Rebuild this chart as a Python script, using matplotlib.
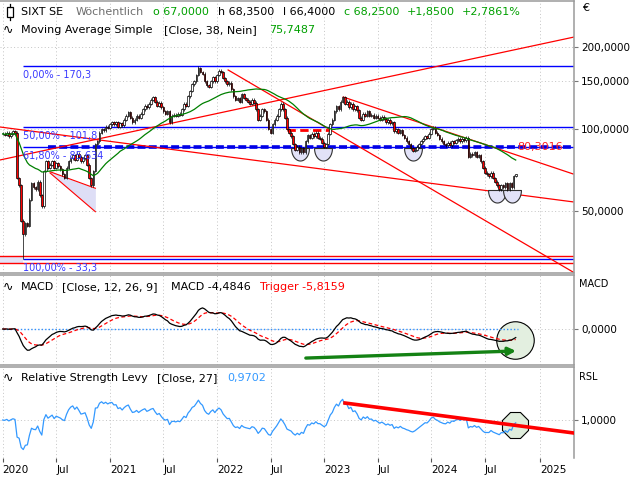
import matplotlib
matplotlib.use("Agg")
import matplotlib.pyplot as plt
import matplotlib.dates as mdates
from matplotlib.path import Path
from matplotlib.patches import Rectangle
from matplotlib.lines import Line2D
from matplotlib.ticker import NullLocator
import numpy as np
import pandas as pd

# weekly closes (EUR), one bar per Monday from 2020-01-06
close_2020 = [96, 95, 97, 94, 96, 98, 97, 66, 62, 46,
              41, 45, 44, 55, 63, 61, 60, 64, 57, 52,
              70, 76, 72, 74, 76, 72, 75, 73, 71, 68,
              66, 72, 76, 78, 80, 77, 81, 79, 76, 78,
              80, 74, 66, 62, 70, 88, 90, 97, 100, 99,
              102, 101]
close_2021 = [104, 106, 104, 106, 102, 105, 103, 108, 112, 115,
              110, 106, 108, 112, 110, 114, 118, 122, 120, 124,
              128, 131, 126, 122, 125, 120, 116, 114, 116, 106,
              112, 113, 112, 114, 113, 118, 124, 122, 132, 138,
              146, 150, 158, 167, 162, 160, 150, 145, 143, 150,
              155, 150]
close_2022 = [158, 164, 162, 154, 150, 146, 148, 140, 132, 128,
              130, 126, 134, 130, 128, 126, 124, 128, 125, 118,
              108, 112, 118, 116, 108, 100, 97, 104, 108, 112,
              118, 124, 118, 110, 100, 97, 94, 88, 84, 86,
              82, 85, 82, 90, 95, 93, 96, 94, 97, 93,
              92, 89]
close_2023 = [86, 88, 96, 104, 108, 116, 121, 118, 126, 131,
              124, 126, 120, 124, 118, 121, 117, 110, 108, 114,
              112, 116, 112, 113, 110, 112, 110, 108, 111, 109,
              106, 108, 105, 106, 98, 100, 97, 99, 95, 93,
              90, 88, 85, 83, 84, 86, 88, 90, 92, 94,
              93, 96]
close_2024 = [100, 101, 97, 95, 92, 90, 88, 87, 89, 87,
              90, 89, 91, 92, 90, 92, 91, 93, 79, 81,
              80, 82, 79, 80, 76, 72, 69, 68, 67, 69,
              66, 64, 62, 60, 62, 61, 63, 60, 63, 61,
              67, 68.25]

# wick extremes visible in the chart
high_fix = {"2021-11-01": 170.3, "2024-10-14": 68.35}
low_fix = {"2020-03-16": 33.3, "2024-10-14": 66.4}
last_open = 67.0

fib_pct = [0.0, 0.5, 0.618, 1.0]
fib_labels = ["0,00% - 170,3", "50,00% - 101,8", "61,80% - 85,634", "100,00% - 33,3"]

# drawn annotations: (date, price) end points
trend_lines = [
    [("2019-12-28", 101.7), ("2025-04-27", 53.9)],
    [("2019-12-28", 76.9), ("2025-04-30", 218.0)],
    [("2022-02-10", 164.9), ("2025-04-30", 29.6)],
    [("2023-03-08", 131.1), ("2025-04-27", 68.3)],
]
channel_top = [("2020-06-15", 69.6), ("2020-11-16", 60.5)]
channel_bot = [("2020-06-15", 68.9), ("2020-11-16", 49.6)]
band_levels = [32.1, 34.0]
neckline = [("2022-08-29", 99.2), ("2023-01-26", 99.2)]
dash_start = "2020-06-08"
bowl_dates = ["2022-10-12", "2022-12-28", "2023-11-01", "2024-08-10", "2024-10-01"]
bowl_prices = [85.0, 85.0, 85.0, 59.6, 59.6]
macd_arrow = [("2022-11-01", -17.6), ("2024-10-15", -13.3)]
macd_ring = ("2024-10-10", -6.7)
rsl_line = [("2023-03-14", 1.283), ("2025-04-30", 0.783)]
rsl_ring = ("2024-10-12", 0.922)

tick_dates = ["2020-01-06", "2020-07-06", "2021-01-04", "2021-07-05", "2022-01-03",
              "2022-07-04", "2023-01-02", "2023-07-03", "2024-01-01", "2024-07-01",
              "2025-01-06"]
tick_labels = ["2020", "Jul", "2021", "Jul", "2022", "Jul", "2023", "Jul", "2024", "Jul", "2025"]
price_ticks = [50, 100, 150, 200]
price_tick_labels = ["50,0000", "100,0000", "150,0000", "200,0000"]


def dn(d):
    return mdates.date2num(pd.Timestamp(d))


close = close_2020 + close_2021 + close_2022 + close_2023 + close_2024
dt = pd.date_range("2020-01-06", periods=len(close), freq="W-MON")
s = pd.Series(close, index=dt, dtype=float)
opn = s.shift(1).fillna(s.iloc[0])
opn.iloc[-1] = last_open
hi = np.maximum(opn, s) * 1.012
lo = np.minimum(opn, s) * 0.988
for d, v in high_fix.items():
    hi[pd.Timestamp(d)] = v
for d, v in low_fix.items():
    lo[pd.Timestamp(d)] = v

ma = s.rolling(38, min_periods=1).mean()
macd = s.ewm(span=12, adjust=False).mean() - s.ewm(span=26, adjust=False).mean()
trig = macd.ewm(span=9, adjust=False).mean()
rsl = s / s.rolling(27, min_periods=1).mean()

hmax, lmin = hi.max(), lo.min()
fib_lv = [hmax - (hmax - lmin) * p for p in fib_pct]
low_date = mdates.date2num(lo.idxmin())

xd = mdates.date2num(dt)
x_left, x_right = dn("2019-12-28"), dn("2025-04-30")
green = "#00a000"
grid_kw = dict(color="#c4c4c4", linestyle=(0, (1, 2.5)), linewidth=0.7)

fig = plt.figure(figsize=(6.4, 4.8), dpi=100)
ax1 = fig.add_axes([0, 207 / 480, 574 / 640, 272 / 480])
ax2 = fig.add_axes([0, 115 / 480, 574 / 640, 90 / 480], sharex=ax1)
ax3 = fig.add_axes([0, 22 / 480, 574 / 640, 91 / 480], sharex=ax1)

for ax in (ax1, ax2, ax3):
    ax.spines["left"].set_visible(False)
    for sp in ("top", "right", "bottom"):
        ax.spines[sp].set_color("#9a9a9a")
        ax.spines[sp].set_linewidth(1.1)
    ax.yaxis.tick_right()
    ax.tick_params(axis="y", direction="out", length=3, width=0.8, color="#777777",
                   labelsize=7.5, pad=2)
    ax.grid(True, **grid_kw)
    ax.set_axisbelow(True)
ax3.spines["bottom"].set_visible(False)
ax1.tick_params(axis="x", bottom=False, labelbottom=False)
ax2.tick_params(axis="x", bottom=False, labelbottom=False)

# ---- price panel
ax1.set_yscale("log")
ax1.set_ylim(29.5, 295.9)
ax1.set_xlim(x_left, x_right)
ax1.set_yticks(price_ticks, labels=price_tick_labels)
ax1.yaxis.set_minor_locator(NullLocator())

ax1.fill_between([x_left, low_date], band_levels[0], band_levels[1], color="#e2e2f6", lw=0, zorder=1)
for lv in band_levels:
    ax1.axhline(lv, color="red", lw=1, zorder=2)
ax1.fill_between([dn(d) for d, _ in channel_top], [p for _, p in channel_bot],
                 [p for _, p in channel_top], color="#dedef6", lw=0, zorder=1)
for seg in (channel_top, channel_bot):
    ax1.plot([dn(d) for d, _ in seg], [p for _, p in seg], color="red", lw=0.8, zorder=2)

ax1.hlines(fib_lv, low_date, x_right, color="#0000ff", lw=1, zorder=2)
ax1.plot([dn(dash_start), x_right], [fib_lv[2]] * 2, color="#0000e6", lw=2.6,
         dashes=(2.2, 0.9), zorder=2)
for lv, lbl in zip(fib_lv, fib_labels):
    ax1.annotate(lbl, (low_date, lv), xytext=(0, -6.5), textcoords="offset points",
                 ha="left", va="center", fontsize=7, color="#3a3aff", zorder=6)

for seg in trend_lines:
    ax1.plot([dn(d) for d, _ in seg], [p for _, p in seg], color="red", lw=0.9, zorder=2)
ax1.plot([dn(d) for d, _ in neckline], [p for _, p in neckline], color="red", lw=2,
         dashes=(3, 1.6), zorder=2)

t = np.linspace(np.pi, 2 * np.pi, 40)
bowl = Path(np.vstack([np.c_[np.cos(t), 1.4 * np.sin(t)], [[-1, 0]]]), closed=True)
ax1.plot([dn(d) for d in bowl_dates], bowl_prices, ls="none", marker=bowl, ms=18,
         mfc="#e2e2f8", mec="#303030", mew=0.8, zorder=2)

up = (s >= opn).values
ax1.vlines(xd, lo, hi, color="black", lw=0.5, zorder=3)
ax1.bar(xd, (s - opn).abs().values, bottom=np.minimum(opn, s).values, width=5.5,
        color=np.where(up, "white", "red"), edgecolor="black", linewidth=0.5, zorder=4)
ax1.plot(xd, ma.values, color="#008000", lw=0.9, zorder=5)

ax1.annotate("80,3016", (xd[-1], fib_lv[2]), xytext=(1, 0), textcoords="offset points",
             ha="left", va="center", fontsize=8, color="#ff2020", zorder=6)

# ---- MACD panel
ax2.set_ylim(-21.8, 32.7)
ax2.set_yticks([0], labels=["0,0000"])
ax2.plot([dn(macd_ring[0])], [macd_ring[1]], ls="none", marker="o",
         ms=27, mfc="#e3efe0", mec="black", mew=0.8, zorder=1)
ax2.plot([xd[0], xd[-1] + 7], [0, 0], color="#3090ff", lw=1, ls=(0, (1, 1.5)), zorder=2)
ax2.plot(xd, trig.values, color="red", lw=0.9, dashes=(3, 2), zorder=3)
ax2.plot(xd, macd.values, color="black", lw=0.9, zorder=4)
ax2.annotate("", xy=(dn(macd_arrow[1][0]), macd_arrow[1][1]),
             xytext=(dn(macd_arrow[0][0]), macd_arrow[0][1]),
             arrowprops=dict(arrowstyle="-|>", color="#148214", lw=2.4, mutation_scale=11,
                             shrinkA=0, shrinkB=0), zorder=5)

# ---- RSL panel
ax3.set_ylim(0.367, 1.883)
ax3.set_yticks([1.0], labels=["1,0000"])
ax3.plot([dn(rsl_ring[0])], [rsl_ring[1]], ls="none", marker="8", ms=20,
         mfc="#dfeddc", mec="black", mew=0.8, zorder=1)
ax3.plot(xd, rsl.values, color="#3399ff", lw=0.9, zorder=3)
ax3.plot([dn(d) for d, _ in rsl_line], [v for _, v in rsl_line], color="red", lw=2.6, zorder=4)

ax3.set_xticks([dn(d) for d in tick_dates], labels=tick_labels)
ax3.tick_params(axis="x", direction="out", length=3, width=0.8, color="#555555",
                labelsize=7.5, pad=2)
for lab in ax3.get_xticklabels():
    lab.set_horizontalalignment("left")
ax1.set_xlim(x_left, x_right)


def row(y_px, parts):
    for x_px, txt, col, fs in parts:
        fig.text(x_px / 640, 1 - y_px / 480, txt, color=col, fontsize=fs, ha="left", va="center")


row(12, [(21, "SIXT SE", "black", 8), (76, "Wöchentlich", "#6e6e6e", 8),
         (153, "o 67,0000", green, 8), (218, "h 68,3500", "black", 8),
         (283, "l 66,4000", "black", 8), (344, "c 68,2500", green, 8),
         (407, "+1,8500", green, 8), (462, "+2,7861%", green, 8)])
row(30, [(3, "∿", "black", 9), (21, "Moving Average Simple", "black", 8),
         (164, "[Close, 38, Nein]", "black", 8), (269, "75,7487", green, 8)])
row(287, [(3, "∿", "black", 9), (21, "MACD", "black", 8), (62, "[Close, 12, 26, 9]", "black", 8),
          (171, "MACD -4,4846", "black", 8), (260, "Trigger -5,8159", "red", 8)])
row(378, [(3, "∿", "black", 9), (21, "Relative Strength Levy", "black", 8),
          (157, "[Close, 27]", "black", 8), (227, "0,9702", "#3399ff", 8)])
row(8, [(582, "€", "black", 8)])
row(284, [(579, "MACD", "black", 7)])
row(377, [(579, "RSL", "black", 7)])

# candle icon in the header
fig.add_artist(Rectangle((7 / 640, 1 - 17 / 480), 6 / 640, 10 / 480, transform=fig.transFigure,
                         fill=False, ec="black", lw=0.9))
fig.add_artist(Line2D([10 / 640, 10 / 640], [1 - 4 / 480, 1 - 7 / 480], transform=fig.transFigure,
                      color="black", lw=0.9))
fig.add_artist(Line2D([10 / 640, 10 / 640], [1 - 17 / 480, 1 - 20 / 480], transform=fig.transFigure,
                      color="black", lw=0.9))

fig.savefig("out.png", dpi=100)
